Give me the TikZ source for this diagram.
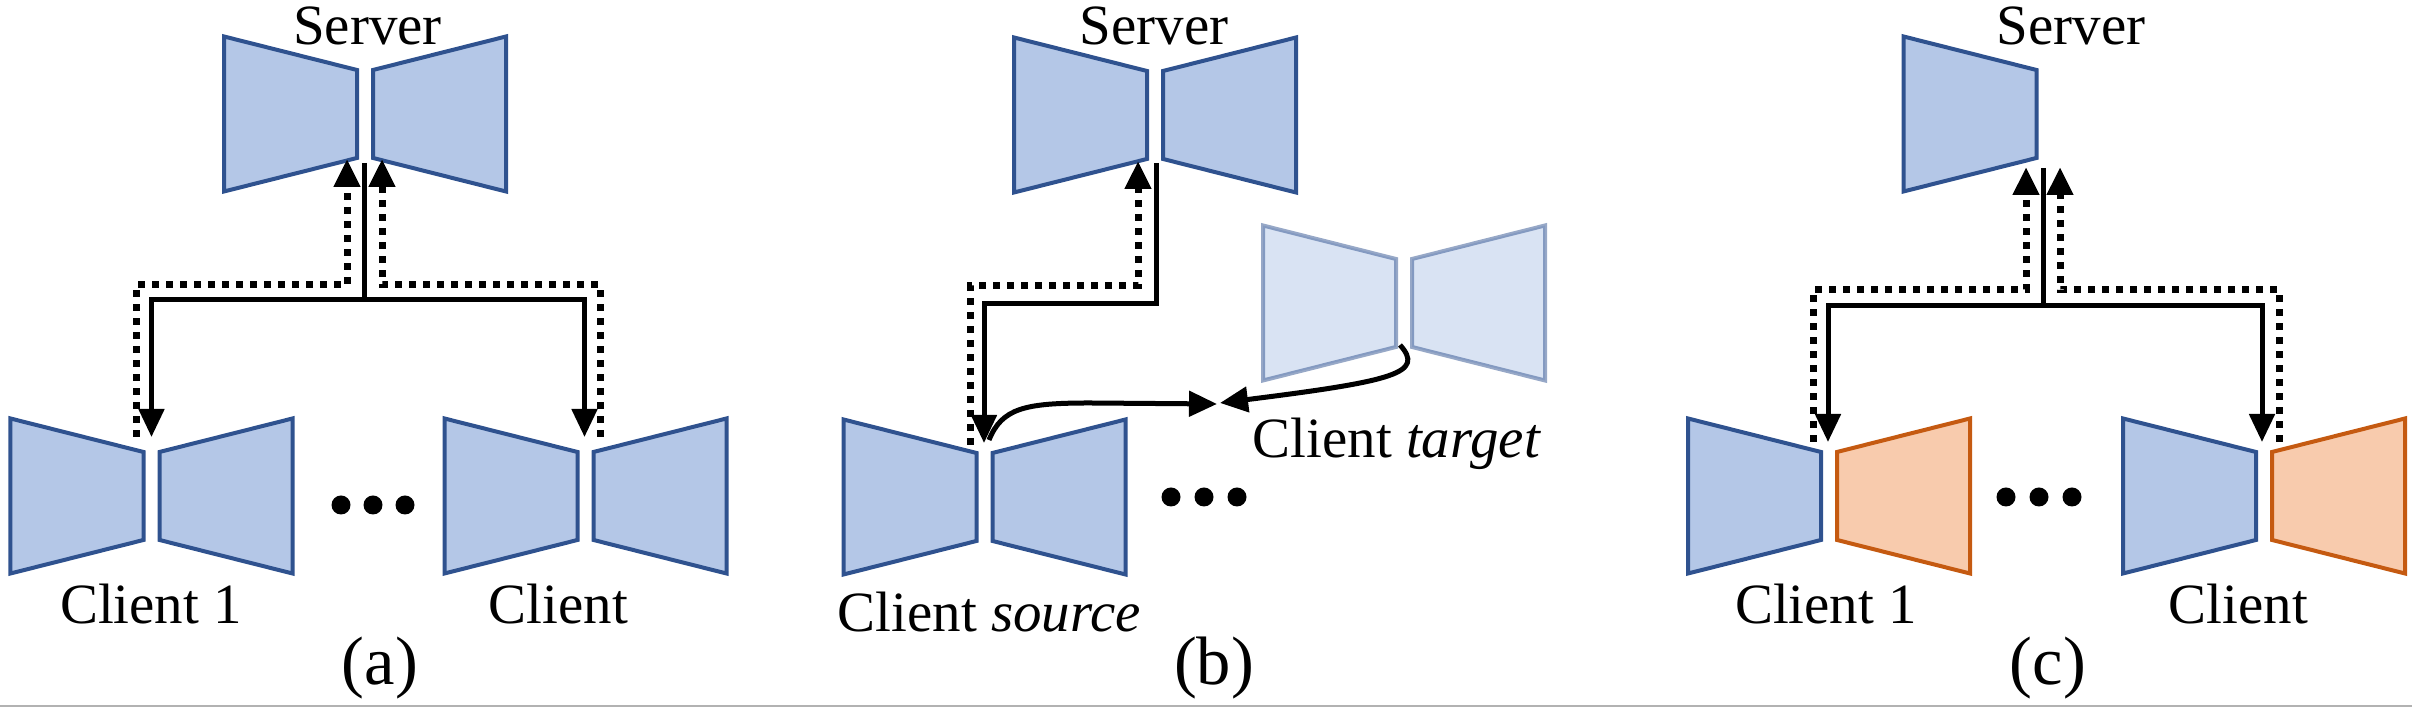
\documentclass[tikz,border=0pt]{standalone}
\usepackage{fontspec}
\setmainfont{Liberation Serif}
\usepackage{tikz}
\usetikzlibrary{arrows.meta}

\definecolor{encfill}{HTML}{B4C7E7}
\definecolor{encline}{HTML}{2F528F}
\definecolor{decfill}{HTML}{F8CBAD}
\definecolor{decline}{HTML}{C55A11}

\begin{document}
\begin{tikzpicture}[
	enc/.style={fill=encfill,draw=encline,line width=0.04cm},
	dec/.style={fill=decfill,draw=decline,line width=0.04cm},
	down/.style={line width=0.05cm,-{Triangle[length=0.28cm,width=0.25cm]}},
	up/.style={line width=0.07cm,dash pattern=on 0.07cm off 0.07cm,-{Triangle[length=0.28cm,width=0.25cm]}},
	lbl/.style={inner sep=0pt,font=\fontsize{16.2}{19}\selectfont},
	subcap/.style={inner sep=0pt,font=\fontsize{19.5}{23}\selectfont}]
				% Define trapezoid parameters.
				\def\trw{1.33}      %width of one trapezoid.
				\def\trh{0.775}     %half height of the wide side.
				\def\tri{0.335}     %inset of the narrow side.
				\def\trg{0.08}      %half gap between the two halves.
				
				% Encoder (wide left) and decoder (wide right) around a centre point.
				\def\encoder#1#2{\draw[#2,shift={(#1)}] (-\trg-\trw,\trh) -- (-\trg,\trh-\tri) -- (-\trg,\tri-\trh) -- (-\trg-\trw,-\trh) -- cycle;}
				\def\decoder#1#2{\draw[#2,shift={(#1)}] (\trg+\trw,\trh) -- (\trg,\trh-\tri) -- (\trg,\tri-\trh) -- (\trg+\trw,-\trh) -- cycle;}
				
				\useasboundingbox (0,0) rectangle (24.12,7.08);
				
				% Define coordinates.
				\coordinate (sa) at (3.65,5.94);      %server (a)
				\coordinate (c1a) at (1.515,2.12);    %client 1 (a)
				\coordinate (cna) at (5.855,2.12);    %client N (a)
				\coordinate (sb) at (11.55,5.93);     %server (b)
				\coordinate (srcb) at (9.845,2.11);   %source (b)
				\coordinate (tgtb) at (14.04,4.05);   %target (b)
				\coordinate (sc) at (20.445,5.94);    %server (c)
				\coordinate (c1c) at (18.29,2.12);    %client 1 (c)
				\coordinate (cnc) at (22.64,2.12);    %client N (c)
				
				% Models.
				\encoder{sa}{enc} \decoder{sa}{enc}
				\encoder{c1a}{enc} \decoder{c1a}{enc}
				\encoder{cna}{enc} \decoder{cna}{enc}
				\encoder{sb}{enc} \decoder{sb}{enc}
				\encoder{srcb}{enc} \decoder{srcb}{enc}
				\encoder{tgtb}{enc,opacity=0.5} \decoder{tgtb}{enc,opacity=0.5}
				\encoder{sc}{enc}
				\encoder{c1c}{enc} \decoder{c1c}{dec}
				\encoder{cnc}{enc} \decoder{cnc}{dec}
				
				% Dots between clients.
				\foreach \x in {3.41,3.73,4.05} \fill (\x,2.03) circle (0.095);
				\foreach \x in {11.71,12.04,12.37} \fill (\x,2.11) circle (0.095);
				\foreach \x in {20.06,20.39,20.72} \fill (\x,2.11) circle (0.095);
				
				% Arrow ends (a).
				\coordinate (sa-o) at (3.645,5.45);
				\coordinate (sa-l) at (3.47,5.49);
				\coordinate (sa-r) at (3.82,5.49);
				\coordinate (c1a-i) at (1.515,2.71);
				\coordinate (c1a-o) at (1.36,2.71);
				\coordinate (cna-i) at (5.845,2.71);
				\coordinate (cna-o) at (6.00,2.71);
				\coordinate (busa) at (0,4.08);
				\coordinate (dbusa) at (0,4.23);
				
				\draw[down] (sa-o) -- (sa-o |- busa) -| (c1a-i);
				\draw[down] (sa-o |- busa) -| (cna-i);
				\draw[up] (c1a-o) -- (c1a-o |- dbusa) -| (sa-l);
				\draw[up] (cna-o) -- (cna-o |- dbusa) -| (sa-r);
				
				% Arrow ends (b).
				\coordinate (sb-o) at (11.56,5.45);
				\coordinate (sb-l) at (11.38,5.47);
				\coordinate (srcb-i) at (9.84,2.65);
				\coordinate (srcb-o) at (9.70,2.63);
				\coordinate (srcb-t) at (9.89,2.68);
				\coordinate (tgtb-t) at (14.00,3.63);
				\coordinate (meet) at (12.17,3.04);
				\coordinate (meet2) at (12.20,3.05);
				\coordinate (busb) at (0,4.04);
				\coordinate (dbusb) at (0,4.22);
				
				\draw[down] (sb-o) -- (sb-o |- busb) -| (srcb-i);
				\draw[up] (srcb-o) -- (srcb-o |- dbusb) -| (sb-l);
				\draw[down] (srcb-t) .. controls (10.02,3.0) and (10.25,3.05) .. (10.9,3.05) -- (meet);
				\draw[down] (tgtb-t) .. controls (14.25,3.35) and (13.95,3.27) .. (meet2);
				
				% Arrow ends (c).
				\coordinate (sc-o) at (20.43,5.40);
				\coordinate (sc-l) at (20.26,5.41);
				\coordinate (sc-r) at (20.60,5.41);
				\coordinate (c1c-i) at (18.28,2.66);
				\coordinate (c1c-o) at (18.13,2.66);
				\coordinate (cnc-i) at (22.62,2.66);
				\coordinate (cnc-o) at (22.79,2.66);
				\coordinate (busc) at (0,4.02);
				\coordinate (dbusc) at (0,4.18);
				
				\draw[down] (sc-o) -- (sc-o |- busc) -| (c1c-i);
				\draw[down] (sc-o |- busc) -| (cnc-i);
				\draw[up] (c1c-o) -- (c1c-o |- dbusc) -| (sc-l);
				\draw[up] (cnc-o) -- (cnc-o |- dbusc) -| (sc-r);
				
				% Labels.
				\node[lbl,anchor=base] (sva) at (3.675,6.63) {Server};
				\node[lbl,anchor=base] (svb) at (11.54,6.63) {Server};
				\node[lbl,anchor=base] (svc) at (20.71,6.63) {Server};
				\node[lbl,anchor=base] (l1a) at (1.51,0.84) {Client 1};
				\node[lbl,anchor=base west] (lna) at (4.88,0.84) {Client};
				\node[lbl,anchor=base west] (lsrc) at (8.37,0.76) {Client \textit{source}};
				\node[lbl,anchor=base west] (ltgt) at (12.52,2.50) {Client \textit{target}};
				\node[lbl,anchor=base] (l1c) at (18.26,0.84) {Client 1};
				\node[lbl,anchor=base west] (lnc) at (21.68,0.84) {Client};
				\node[subcap,anchor=base] (capa) at (3.80,0.23) {(a)};
				\node[subcap,anchor=base] (capb) at (12.14,0.23) {(b)};
				\node[subcap,anchor=base] (capc) at (20.48,0.23) {(c)};
				
				% Bottom rule.
				\draw[gray!60,line width=0.02cm] (0,0.02) -- (24.12,0.02);
				
\end{tikzpicture}
\end{document}
